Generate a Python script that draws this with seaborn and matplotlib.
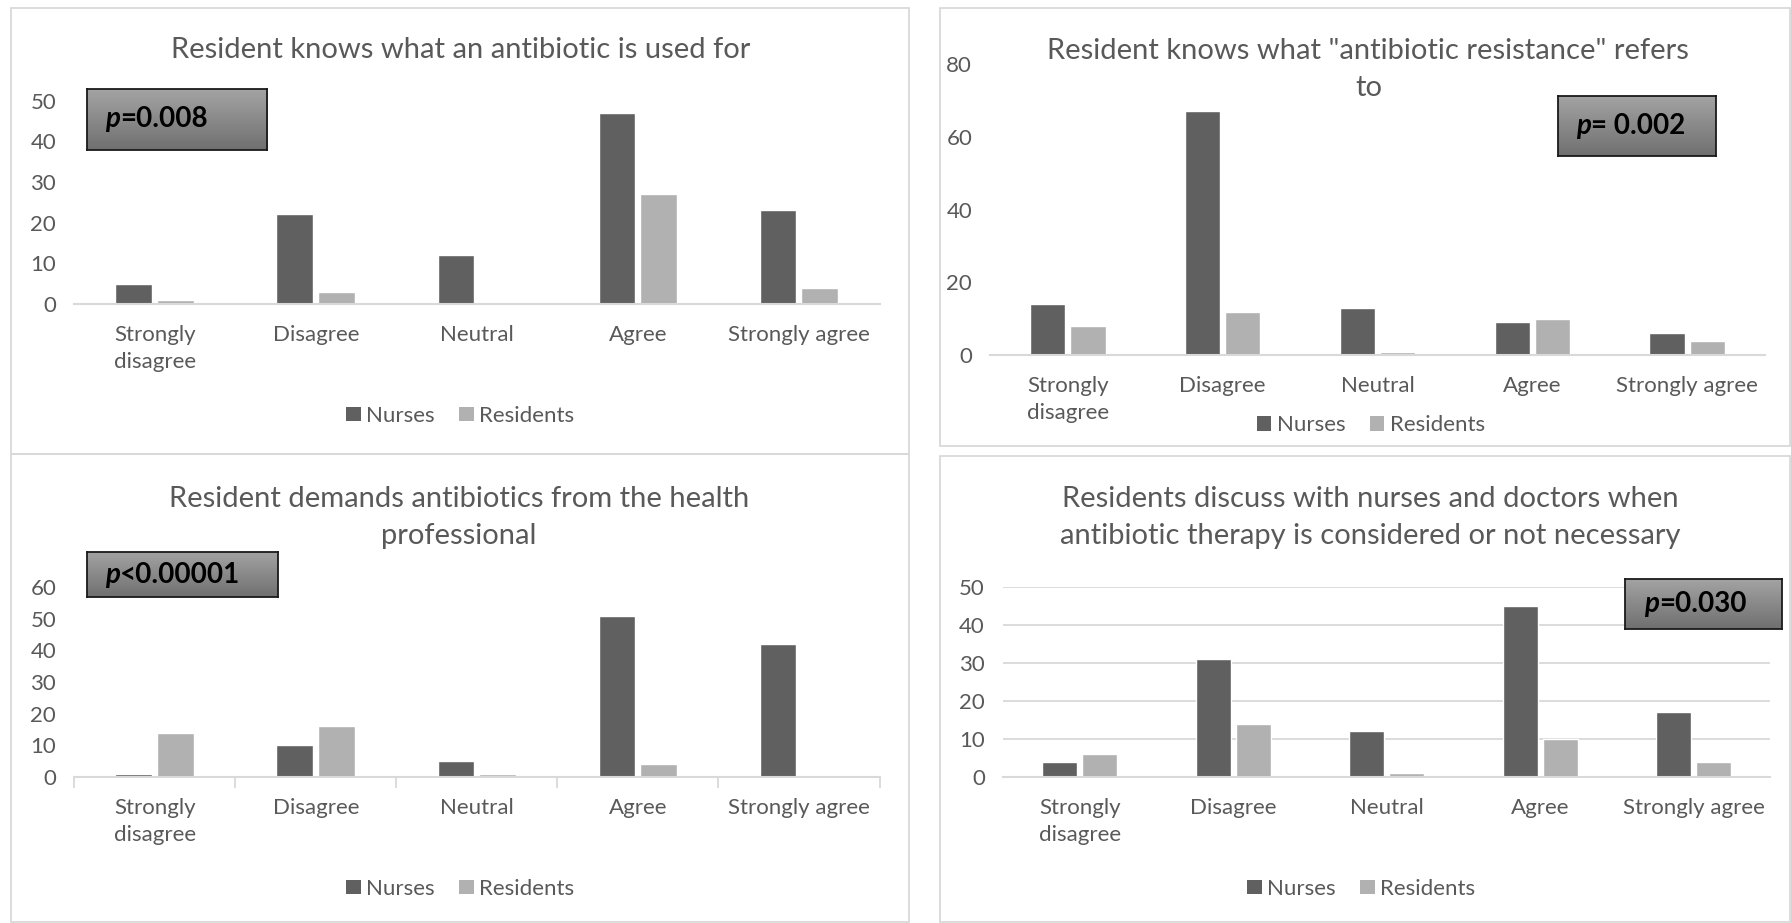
import numpy as np
import pandas as pd
import seaborn as sns
import matplotlib.pyplot as plt
from matplotlib.patches import Rectangle, Patch

# data
categories = ['Strongly\ndisagree', 'Disagree', 'Neutral', 'Agree', 'Strongly agree']
groups = ['Nurses', 'Residents']

used_for_nurses = [5, 22, 12, 47, 23]
used_for_residents = [1, 3, 0, 27, 4]
resistance_nurses = [14, 67, 13, 9, 6]
resistance_residents = [8, 12, 1, 10, 4]
demands_nurses = [1, 10, 5, 51, 42]
demands_residents = [14, 16, 1, 4, 0]
discuss_nurses = [4, 31, 12, 45, 17]
discuss_residents = [6, 14, 1, 10, 4]

titles = ['Resident knows what an antibiotic is used for',
          'Resident knows what "antibiotic resistance" refers\nto',
          'Resident demands antibiotics from the health\nprofessional',
          'Residents discuss with nurses and doctors when\nantibiotic therapy is considered or not necessary']
p_texts = ['=0.008', '= 0.002', '<0.00001', '=0.030']
y_max = [50, 80, 60, 50]
y_step = [10, 20, 10, 10]

sns.set_theme(style='white')
plt.rcParams['font.family'] = ['Lato', 'DejaVu Sans']
TXT = '#595959'
LINE = '#d9d9d9'
palette = {'Nurses': '#606060', 'Residents': '#b1b1b1'}

W, H = 1568, 808


def fx(px):
    return px / W


def fy(py):
    return 1 - py / H


def rect(x0, x1, ytop, ybot):
    return [fx(x0), fy(ybot), (x1 - x0) / W, (ybot - ytop) / H]


fig = plt.figure(figsize=(17.91, 9.23), dpi=100)

# panel frames
for (x0, x1, y0, y1) in [(10, 796, 7, 397), (823, 1567, 7, 390), (10, 796, 397, 807), (823, 1567, 399, 807)]:
    fig.add_artist(Rectangle((fx(x0), fy(y1)), (x1 - x0) / W, (y1 - y0) / H, transform=fig.transFigure,
                             fill=False, edgecolor=LINE, lw=1.3))

series = [(used_for_nurses, used_for_residents), (resistance_nurses, resistance_residents),
          (demands_nurses, demands_residents), (discuss_nurses, discuss_residents)]
ax_rects = [rect(65, 770, 88, 266), rect(867, 1545, 56, 311), rect(65, 770, 514, 680), rect(878, 1550, 514, 680)]
title_pos = [(403, 44), (1198, 61), (402, 453), (1200, 453)]
legend_pos = [(403, 364), (1200, 372), (403, 778), (1192, 778)]
box_pos = [(76, 234, 78, 131), (1364, 1502, 84, 137), (76, 243, 483, 523), (1423, 1560, 507, 551)]

for i in range(4):
    nurses, residents = series[i]
    df = pd.DataFrame({'Answer': categories * 2,
                       'Count': nurses + residents,
                       'Group': ['Nurses'] * 5 + ['Residents'] * 5})
    ax = fig.add_axes(ax_rects[i])
    sns.barplot(data=df, x='Answer', y='Count', hue='Group', hue_order=groups, order=categories,
                palette=palette, width=0.52, gap=0.12, saturation=1, legend=False, ax=ax)
    ax.set_ylim(0, y_max[i])
    ax.set_xlim(-0.5, 4.5)
    ax.set_yticks(np.arange(0, y_max[i] + 1, y_step[i]))
    ax.set_xlabel('')
    ax.set_ylabel('')
    for s in ['top', 'right', 'left']:
        ax.spines[s].set_visible(False)
    ax.spines['bottom'].set_color(LINE)
    ax.spines['bottom'].set_linewidth(1.5)
    ax.tick_params(axis='y', length=0, pad=13, labelsize=16, labelcolor=TXT)
    ax.tick_params(axis='x', length=0, pad=15, labelsize=16, labelcolor=TXT)
    ax.set_facecolor('none')
    if i == 3:
        ax.grid(axis='y', color=LINE, lw=1.3)
        ax.set_axisbelow(True)
    if i == 2:
        ax.set_xticks(np.arange(-0.5, 5.0, 1.0), minor=True)
        ax.tick_params(axis='x', which='minor', length=8, width=1.3, color=LINE, bottom=True)
    for lab in ax.get_xticklabels():
        lab.set_linespacing(1.45)

    tx, ty = title_pos[i]
    fig.text(fx(tx), fy(ty), titles[i], ha='center', va='center', fontsize=21, color=TXT, linespacing=1.55)

    lx, ly = legend_pos[i]
    handles = [Patch(facecolor=palette[g], edgecolor='none', label=g) for g in groups]
    fig.legend(handles=handles, loc='center', bbox_to_anchor=(fx(lx), fy(ly)), ncol=2, frameon=False,
               fontsize=16, labelcolor=TXT, handlelength=0.65, handleheight=0.65, handletextpad=0.25,
               columnspacing=1.1)

    # p-value box with grey gradient
    bx0, bx1, by0, by1 = box_pos[i]
    bax = fig.add_axes(rect(bx0, bx1, by0, by1))
    grad = np.linspace(0.64, 0.44, 50).reshape(-1, 1)
    bax.imshow(grad, cmap='gray', vmin=0, vmax=1, aspect='auto', extent=(0, 1, 0, 1), origin='upper')
    bax.set_xticks([])
    bax.set_yticks([])
    for s in bax.spines.values():
        s.set_color('#1a1a1a')
        s.set_linewidth(1.3)
    t = bax.text(16 / (bx1 - bx0), 0.5, 'p', transform=bax.transAxes, ha='left', va='center',
                 fontsize=20, fontweight='bold', fontstyle='italic', color='black')
    bax.annotate(p_texts[i], xy=(1, 0.5), xycoords=t, va='center', ha='left',
                 fontsize=20, fontweight='bold', color='black')

fig.savefig('out.png', dpi=100, facecolor='white')
